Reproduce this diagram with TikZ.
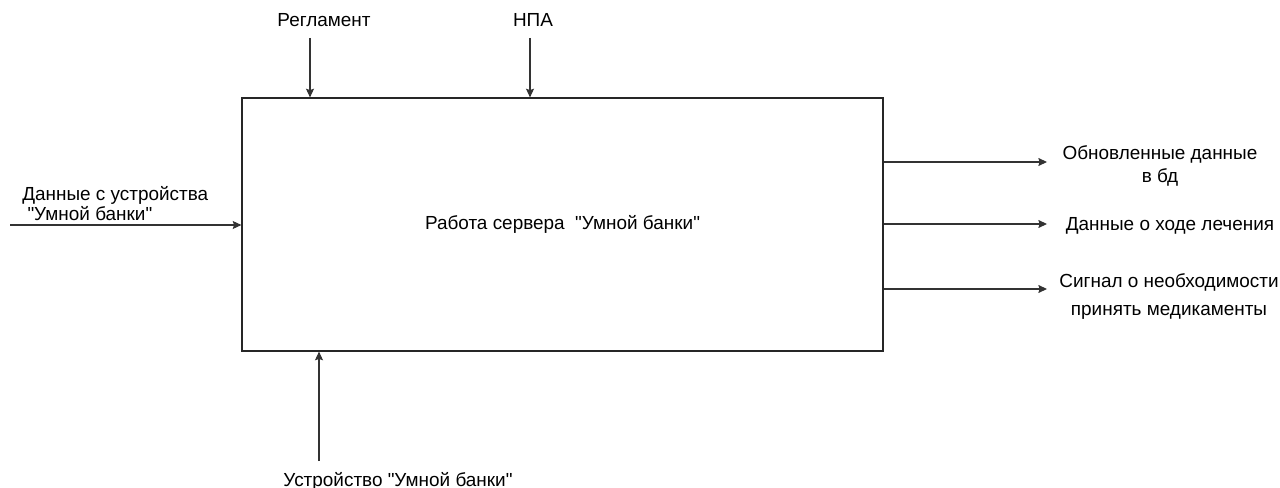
\documentclass[tikz,border=0pt]{standalone}
\usepackage{fontspec}
\newfontfamily\idffont{Liberation Sans}
\usepackage{tikz}
\usetikzlibrary{positioning,arrows.meta}

\begin{document}
\begin{tikzpicture}[
  x=0.75pt, y=-0.75pt,
  font=\idffont\fontsize{14.2}{17}\selectfont,
  funcbox/.style={rectangle, draw=black!85, line width=0.9pt, minimum width=480.75pt, minimum height=189.75pt},
  lbl/.style={inner sep=0pt, align=center},
  flow/.style={draw=black!80, line width=0.8pt, -{Stealth[length=6.5pt, width=6pt, inset=1pt]}}
]
  \useasboundingbox (0,0) rectangle (1280,488);
  \node[funcbox] (srv) at (562.5,224.5) {Работа сервера \ "Умной банки"};
  % controls
  \node[lbl] (reg) at (324,20) {Регламент};
  \node[lbl] (npa) at (533,20) {НПА};
  \coordinate (regtop) at (310,38);
  \coordinate (npatop) at (530,38);
  \draw[flow] (regtop) -- (regtop |- srv.north);
  \draw[flow] (npatop) -- (npatop |- srv.north);
  % input
  \node[lbl, align=left, anchor=west] (din) at (22,204) {Данные с устройства\\[-2pt]\ "Умной банки"};
  \coordinate (dinleft) at (10,225);
  \draw[flow] (dinleft) -- (dinleft -| srv.west);
  % mechanism
  \node[lbl] (dev) at (398,481) {Устройство "Умной банки"};
  \coordinate (devbot) at (319,461);
  \draw[flow] (devbot) -- (devbot |- srv.south);
  % outputs
  \coordinate (out1) at (1047,162);
  \coordinate (out2) at (1047,224);
  \coordinate (out3) at (1047,289);
  \node[lbl] (upd) at (1160,166) {Обновленные данные\\в бд};
  \node[lbl] (hod) at (1170,226) {Данные о ходе лечения};
  \node[lbl] (sig) at (1169,297) {Сигнал о необходимости\\[4pt]принять медикаменты};
  \draw[flow] (out1 -| srv.east) -- (out1);
  \draw[flow] (out2 -| srv.east) -- (out2);
  \draw[flow] (out3 -| srv.east) -- (out3);
\end{tikzpicture}
\end{document}
